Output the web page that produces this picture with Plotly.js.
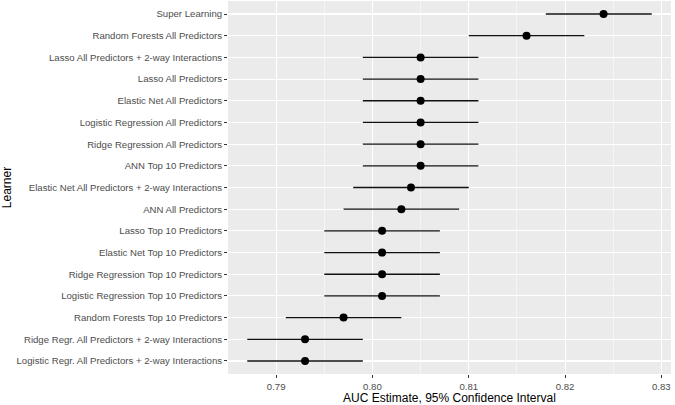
<!DOCTYPE html>
<html>
<head>
<meta charset="utf-8">
<script src="https://cdn.plot.ly/plotly-3.0.1.min.js"></script>
<style>html,body{margin:0;padding:0;background:#fff;}#chart{width:675px;height:405px;}</style>
</head>
<body>
<div id="chart"></div>
<script>
const learners = [
  "Super Learning",
  "Random Forests All Predictors",
  "Lasso All Predictors + 2-way Interactions",
  "Lasso All Predictors",
  "Elastic Net All Predictors",
  "Logistic Regression All Predictors",
  "Ridge Regression All Predictors",
  "ANN Top 10 Predictors",
  "Elastic Net All Predictors + 2-way Interactions",
  "ANN All Predictors",
  "Lasso Top 10 Predictors",
  "Elastic Net Top 10 Predictors",
  "Ridge Regression Top 10 Predictors",
  "Logistic Regression Top 10 Predictors",
  "Random Forests Top 10 Predictors",
  "Ridge Regr. All Predictors + 2-way Interactions",
  "Logistic Regr. All Predictors + 2-way Interactions"
];
const auc   = [0.824,0.816,0.805,0.805,0.805,0.805,0.805,0.805,0.804,0.803,0.801,0.801,0.801,0.801,0.797,0.793,0.793];
const lower = [0.818,0.810,0.799,0.799,0.799,0.799,0.799,0.799,0.798,0.797,0.795,0.795,0.795,0.795,0.791,0.787,0.787];
const upper = [0.829,0.822,0.811,0.811,0.811,0.811,0.811,0.811,0.810,0.809,0.807,0.807,0.807,0.807,0.803,0.799,0.799];
const xTicks = [0.79,0.80,0.81,0.82,0.83];

const trace = {
  type: 'scatter',
  mode: 'markers',
  x: auc,
  y: learners,
  marker: {color: '#000000', size: 8},
  error_x: {
    type: 'data', symmetric: false,
    array: upper.map((u,i)=>u-auc[i]),
    arrayminus: lower.map((l,i)=>auc[i]-l),
    width: 0, thickness: 1.3, color: '#111111'
  },
  hoverinfo: 'x+y'
};

const n = learners.length;
const layout = {
  width: 675, height: 405,
  margin: {l: 228, r: 4, t: 1, b: 31},
  paper_bgcolor: '#ffffff',
  plot_bgcolor: '#EBEBEB',
  showlegend: false,
  font: {family: 'Liberation Sans, Arial, sans-serif', color: '#4D4D4D', size: 9.6},
  xaxis: {
    range: [0.785, 0.831],
    tickvals: xTicks,
    ticktext: xTicks.map(v=>v.toFixed(2)),
    showgrid: true, gridcolor: '#ffffff', gridwidth: 1.1,
    minor: {dtick: 0.005, tick0: 0.785, showgrid: true, gridcolor: '#ffffff', gridwidth: 0.5, ticks: ''},
    zeroline: false, showline: false,
    ticks: 'outside', ticklen: 3, tickwidth: 1, tickcolor: '#333333',
    tickfont: {size: 9.6, color: '#4D4D4D'},
    title: {text: 'AUC Estimate, 95% Confidence Interval', font: {size: 12, color: '#000000'}, standoff: 2}
  },
  yaxis: {
    type: 'category',
    categoryorder: 'array', categoryarray: learners,
    range: [n - 1 + 0.6, -0.6],
    showgrid: true, gridcolor: '#ffffff', gridwidth: 1.1,
    zeroline: false, showline: false,
    ticks: 'outside', ticklen: 3, tickwidth: 1, tickcolor: '#333333',
    tickfont: {size: 9.6, color: '#4D4D4D'},
    title: {text: 'Learner', font: {size: 12, color: '#000000'}, standoff: 2}
  }
};

Plotly.newPlot('chart', [trace], layout, {displayModeBar: false, staticPlot: true});
</script>
</body>
</html>
